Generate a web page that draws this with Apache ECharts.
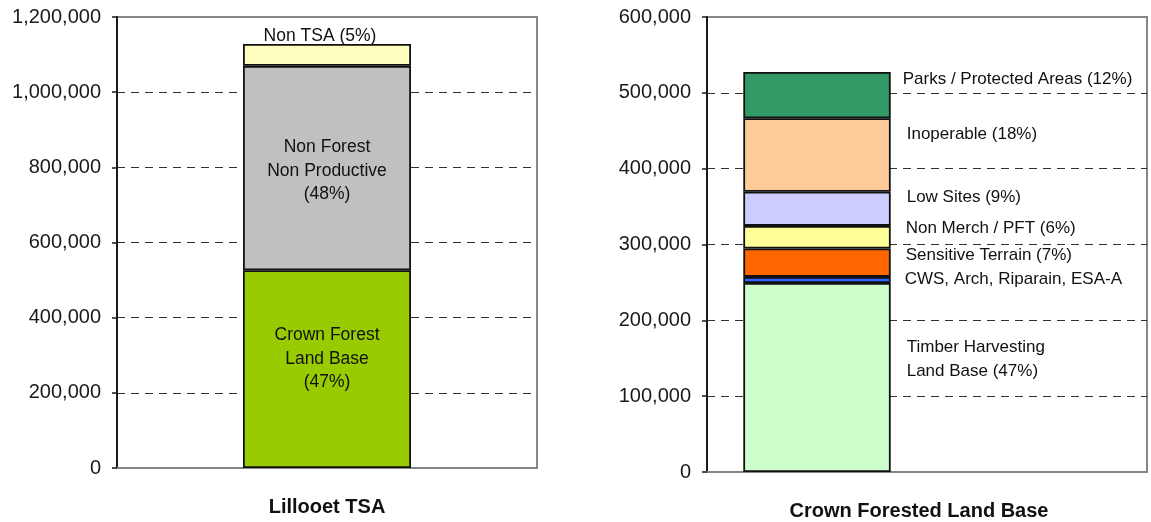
<!DOCTYPE html>
<html>
<head>
<meta charset="utf-8">
<title>Lillooet TSA land base</title>
<script src="https://cdn.jsdelivr.net/npm/echarts@6/dist/echarts.min.js"></script>
<style>
  html, body { margin: 0; padding: 0; background: #ffffff; }
  #chart { width: 1151px; height: 522px; }
</style>
</head>
<body>
<div id="chart"></div>
<script>
// ---- Data ----------------------------------------------------------------
// Left panel: the whole Lillooet TSA (hectares), stacked bottom to top
const tsaCategory = ['Lillooet TSA'];
const tsaLabels = ['Crown Forest\nLand Base\n(47%)', 'Non Forest\nNon Productive\n(48%)', 'Non TSA (5%)'];
const tsaValues = [526000, 544000, 58000];

// Right panel: breakdown of the crown forested land base, bottom to top
const cflbCategory = ['Crown Forested Land Base'];
const cflbLabels = [
  'Timber Harvesting\nLand Base (47%)',
  'CWS, Arch, Riparain, ESA-A',
  'Sensitive Terrain (7%)',
  'Non Merch / PFT (6%)',
  'Low Sites (9%)',
  'Inoperable (18%)',
  'Parks / Protected Areas (12%)'
];
const cflbValues = [249300, 8000, 37400, 29800, 45000, 97000, 60900];

// Axis ranges
const tsaAxis = { min: 0, max: 1200000, interval: 200000 };
const cflbAxis = { min: 0, max: 600000, interval: 100000 };

// ---- Styling -------------------------------------------------------------
const FONT = "'Liberation Sans', Arial, Helvetica, sans-serif";
const tsaColors = ['#99CC00', '#C0C0C0', '#FFFFC0'];
const cflbColors = ['#CCFFCC', '#3366FF', '#FF6600', '#FFFF99', '#CCCCFF', '#FFCC99', '#339966'];
// label placement per segment: [position, offsetX, offsetY]
const tsaLabelPlace = [['inside', 0, -10], ['inside', 0, 3], ['top', -7, 5]];
const cflbLabelOffsets = [[16, -18], [14, -1], [15, -7], [15, -9], [16, -12], [16, -21], [12, -16]];

const fmt = v => v.toLocaleString('en-US');

function valueAxis(gridIndex, range) {
  return {
    type: 'value',
    gridIndex: gridIndex,
    min: range.min,
    max: range.max,
    interval: range.interval,
    axisLine: { show: true, lineStyle: { color: '#1a1a1a', width: 2 } },
    axisTick: { show: true, length: 5, lineStyle: { color: '#1a1a1a', width: 1.5 } },
    axisLabel: { margin: 16, color: '#1a1a1a', fontSize: 20, fontFamily: FONT, formatter: fmt },
    splitLine: {
      show: true, showMinLine: false, showMaxLine: false,
      lineStyle: { color: '#333333', width: 1, type: [8, 6] }
    }
  };
}

const baseBorder = { borderColor: '#111111', borderWidth: 1.8 };

const series = [];
tsaValues.forEach((v, i) => {
  const place = tsaLabelPlace[i];
  series.push({
    name: tsaLabels[i],
    type: 'bar',
    stack: 'tsa',
    xAxisIndex: 0,
    yAxisIndex: 0,
    barWidth: '40%',
    data: [v],
    itemStyle: Object.assign({ color: tsaColors[i] }, baseBorder),
    label: {
      show: true,
      position: place[0],
      distance: 1,
      offset: [place[1], place[2]],
      formatter: tsaLabels[i],
      color: '#111111',
      fontSize: 17.5,
      lineHeight: 23.5,
      fontFamily: FONT,
      align: 'center'
    },
    emphasis: { disabled: true },
    animation: false
  });
});

cflbValues.forEach((v, i) => {
  const off = cflbLabelOffsets[i];
  series.push({
    name: cflbLabels[i],
    type: 'bar',
    stack: 'cflb',
    xAxisIndex: 1,
    yAxisIndex: 1,
    barWidth: '67%',
    data: [v],
    itemStyle: Object.assign({ color: cflbColors[i] }, baseBorder),
    label: {
      show: true,
      position: 'right',
      distance: 0,
      offset: off,
      formatter: cflbLabels[i],
      color: '#111111',
      fontSize: 17,
      lineHeight: 24,
      fontFamily: FONT,
      align: 'left'
    },
    emphasis: { disabled: true },
    animation: false
  });
});

const chart = echarts.init(document.getElementById('chart'), null, { renderer: 'canvas' });
chart.setOption({
  backgroundColor: '#ffffff',
  animation: false,
  grid: [
    { left: 117, top: 17, width: 420, height: 451, outerBoundsMode: 'none', show: true, borderColor: '#868686', borderWidth: 2, backgroundColor: 'transparent' },
    { left: 707, top: 17, width: 440, height: 455, outerBoundsMode: 'none', show: true, borderColor: '#868686', borderWidth: 2, backgroundColor: 'transparent' }
  ],
  xAxis: [
    {
      type: 'category',
      gridIndex: 0,
      data: tsaCategory,
      axisLine: { show: true, lineStyle: { color: '#868686', width: 2 } },
      axisTick: { show: false },
      axisLabel: { margin: 29, color: '#111111', fontSize: 20, fontWeight: 'bold', fontFamily: FONT }
    },
    {
      // the bar sits in the first of two bands; the panel title is centred below
      type: 'category',
      gridIndex: 1,
      data: cflbCategory,
      max: 1,
      axisLine: { show: true, lineStyle: { color: '#868686', width: 2 } },
      axisTick: { show: false },
      axisLabel: { show: false },
      name: cflbCategory[0],
      nameLocation: 'middle',
      nameGap: 29,
      nameTextStyle: { color: '#111111', fontSize: 20, fontWeight: 'bold', fontFamily: FONT, padding: [0, 16, 0, 0] }
    }
  ],
  yAxis: [valueAxis(0, tsaAxis), valueAxis(1, cflbAxis)],
  series: series
});
</script>
</body>
</html>
